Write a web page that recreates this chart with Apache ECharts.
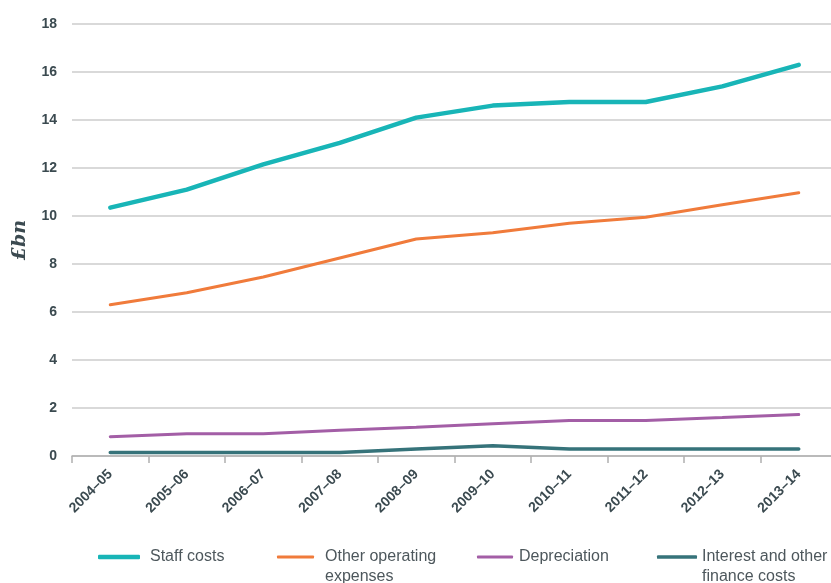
<!DOCTYPE html>
<html><head><meta charset="utf-8">
<script src="https://cdn.jsdelivr.net/npm/echarts@6/dist/echarts.min.js"></script>
<style>html,body{margin:0;padding:0;background:#fff}#c{width:831px;height:583px}</style>
</head><body><div id="c"></div>
<script>
const categories = ['2004–05','2005–06','2006–07','2007–08','2008–09','2009–10','2010–11','2011–12','2012–13','2013–14'];
const staffCosts = [10.35, 11.1, 12.15, 13.05, 14.1, 14.6, 14.75, 14.75, 15.4, 16.3];
const otherOperating = [6.3, 6.8, 7.46, 8.25, 9.04, 9.3, 9.7, 9.95, 10.47, 10.97];
const depreciation = [0.8, 0.93, 0.93, 1.07, 1.2, 1.34, 1.48, 1.48, 1.6, 1.73];
const interestFinance = [0.15, 0.15, 0.15, 0.15, 0.29, 0.43, 0.29, 0.29, 0.29, 0.29];
const yTicks = {min: 0, max: 18, interval: 2};

const names = ['Staff costs','Other operating expenses','Depreciation','Interest and other finance costs'];
const labels = {
  'Staff costs': ' \nStaff costs\n ',
  'Other operating expenses': ' \nOther operating\nexpenses',
  'Depreciation': ' \nDepreciation\n ',
  'Interest and other finance costs': ' \nInterest and other\nfinance costs'
};
const colors = ['#18b5b7','#f07b3b','#a35ea6','#36737a'];
const widths = [4.5, 3, 3, 3.5];
const legendPos = [
  {left: 93, w: 42, pad: 5},
  {left: 272, w: 37, pad: 6},
  {left: 472, w: 36, pad: 1},
  {left: 652, w: 40, pad: 0}
];
const LH = 20;
const seriesData = [staffCosts, otherOperating, depreciation, interestFinance];

const chart = echarts.init(document.getElementById('c'), null, {renderer: 'canvas'});
chart.setOption({
  animation: false,
  grid: {left: 72, top: 24, width: 765, bottom: 127, containLabel: false, outerBoundsMode: 'none'},
  legend: names.map((n, i) => ({
    data: [n],
    left: legendPos[i].left,
    top: 522,
    icon: 'roundRect',
    itemWidth: legendPos[i].w,
    itemHeight: widths[i],
    itemGap: 0,
    formatter: nm => labels[nm],
    textStyle: {fontFamily: 'Liberation Sans', fontSize: 16, color: '#4d575c', lineHeight: LH, padding: [0, 0, 0, legendPos[i].pad]}
  })),
  xAxis: {
    type: 'category',
    data: categories,
    boundaryGap: true,
    axisLine: {lineStyle: {color: '#b0b0b0', width: 1.5}},
    axisTick: {show: true, length: 7, lineStyle: {color: '#b0b0b0', width: 1.5}},
    axisLabel: {rotate: 45, interval: 0, margin: 16, fontFamily: 'Liberation Sans', fontWeight: 'bold', fontSize: 14, color: '#3b4a50'}
  },
  yAxis: {
    type: 'value',
    min: yTicks.min, max: yTicks.max, interval: yTicks.interval,
    name: '£bn',
    nameLocation: 'middle',
    nameGap: 42,
    nameRotate: 90,
    nameTextStyle: {fontFamily: 'DejaVu Serif', fontStyle: 'italic', fontWeight: 'bold', fontSize: 19, color: '#3b4a50'},
    axisLine: {show: false},
    axisTick: {show: false},
    splitLine: {lineStyle: {color: '#cccccc', width: 1.5}},
    axisLabel: {margin: 15, fontFamily: 'Liberation Sans', fontWeight: 'bold', fontSize: 14, color: '#3b4a50'}
  },
  series: names.map((n, i) => ({
    name: n,
    type: 'line',
    data: seriesData[i],
    symbol: 'none',
    color: colors[i],
    lineStyle: {width: widths[i], color: colors[i], cap: 'round'},
    z: 10 - i
  }))
});
</script></body></html>
